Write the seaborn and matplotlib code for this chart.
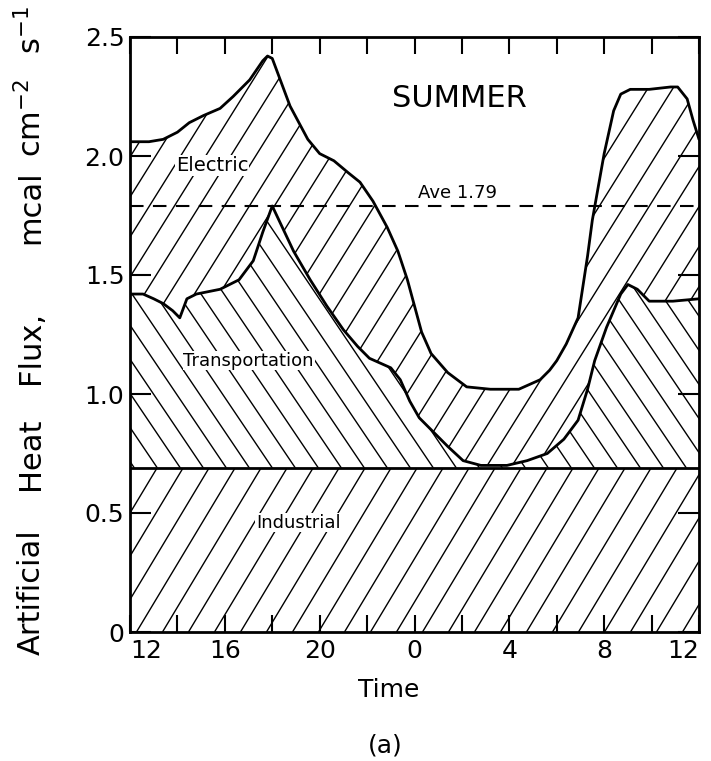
import numpy as np
import matplotlib
matplotlib.use("Agg")
import matplotlib.pyplot as plt
from matplotlib.collections import LineCollection
import seaborn as sns

# ---------------- data ----------------
hours_total = [12.0, 12.8, 13.4, 14.0, 14.5, 15.1, 15.8, 16.35, 17.05, 17.6, 17.8,
               18.0, 18.3, 18.75, 19.5, 20.0, 20.6, 21.2, 21.7, 22.25, 22.85, 23.3,
               23.7, 24.0, 24.3, 24.7, 25.4, 26.2, 27.2, 28.4, 29.3, 29.7, 30.0,
               30.4, 30.9, 31.1, 31.3, 31.5, 31.75, 32.0, 32.4, 32.7, 33.1, 33.9,
               34.8, 35.1, 35.5, 35.75, 36.0]
total_flux = [2.06, 2.06, 2.07, 2.10, 2.14, 2.17, 2.20, 2.25, 2.32, 2.40, 2.42,
              2.41, 2.33, 2.21, 2.07, 2.01, 1.98, 1.93, 1.89, 1.81, 1.70, 1.60,
              1.48, 1.37, 1.26, 1.17, 1.09, 1.03, 1.02, 1.02, 1.06, 1.10, 1.14,
              1.21, 1.32, 1.45, 1.58, 1.73, 1.87, 2.01, 2.19, 2.26, 2.28, 2.28,
              2.29, 2.29, 2.24, 2.15, 2.07]

hours_transport = [12.0, 12.55, 13.0, 13.4, 13.8, 14.1, 14.4, 14.8, 15.8, 16.6, 17.2,
                   17.6, 18.0, 18.9, 19.6, 20.3, 21.0, 21.6, 22.1, 22.55, 23.0, 23.4,
                   23.8, 24.2, 24.8, 25.4, 26.05, 26.8, 27.9, 28.75, 29.6, 30.3, 30.9,
                   31.3, 31.6, 32.1, 32.7, 33.0, 33.4, 33.9, 34.9, 36.0]
transport_top = [1.42, 1.42, 1.40, 1.38, 1.35, 1.32, 1.40, 1.42, 1.44, 1.48, 1.56,
                 1.68, 1.79, 1.60, 1.48, 1.37, 1.27, 1.20, 1.15, 1.13, 1.11, 1.06,
                 0.97, 0.90, 0.84, 0.78, 0.72, 0.70, 0.70, 0.72, 0.75, 0.81, 0.89,
                 1.02, 1.14, 1.28, 1.42, 1.46, 1.44, 1.39, 1.39, 1.40]

hours_industrial = [12.0, 36.0]
industrial = [0.69, 0.69]

average = 1.79

x_ticks = [12, 16, 20, 24, 28, 32, 36]
x_tick_labels = ["12", "16", "20", "0", "4", "8", "12"]
y_ticks = [0, 0.5, 1.0, 1.5, 2.0, 2.5]
y_tick_labels = ["0", "0.5", "1.0", "1.5", "2.0", "2.5"]

# ---------------- figure ----------------
sns.set_style("ticks")
plt.rcParams["font.family"] = ["DejaVu Sans"]
plt.rcParams.update({
    "text.color": "black",
    "axes.labelcolor": "black",
    "axes.edgecolor": "black",
    "xtick.color": "black",
    "ytick.color": "black",
})

W_PX, H_PX = 711, 761
fig = plt.figure(figsize=(W_PX / 100, H_PX / 100), dpi=100)
ax = fig.add_axes([130 / W_PX, 1 - 632 / H_PX, 569 / W_PX, 595 / H_PX])
ax.set_xlim(12, 36)
ax.set_ylim(0, 2.5)
ax.set_axisbelow(False)

ax_w = 569.0
ax_h = 595.0


def hatch(patch, angle_deg, spacing, sign):
    """Slanted hatch lines clipped to a polygon patch (axes-fraction coords)."""
    t = np.tan(np.radians(angle_deg))
    dx = ax_h / t
    segs = []
    if sign > 0:
        starts = np.arange(-dx - spacing, ax_w + spacing, spacing)
        for x0 in starts:
            segs.append([(x0 / ax_w, 0.0), ((x0 + dx) / ax_w, 1.0)])
    else:
        starts = np.arange(0 - spacing, ax_w + dx + spacing, spacing)
        for x0 in starts:
            segs.append([(x0 / ax_w, 0.0), ((x0 - dx) / ax_w, 1.0)])
    lc = LineCollection(segs, transform=ax.transAxes, colors="black",
                        linewidths=1.0, zorder=2)
    ax.add_collection(lc, autolim=False)
    lc.set_clip_path(patch)


ht = np.asarray(hours_total)
tt = np.asarray(total_flux)
hx = np.asarray(hours_transport)
tx = np.asarray(transport_top)
hi = np.asarray(hours_industrial)
ii = np.asarray(industrial)

# Electric polygon: between transport top and total
elec_patch = ax.fill(np.concatenate([ht, hx[::-1]]), np.concatenate([tt, tx[::-1]]),
                     facecolor="white", edgecolor="none", zorder=1)[0]
# Transportation polygon
trans_patch = ax.fill(np.concatenate([hx, hi[::-1]]), np.concatenate([tx, ii[::-1]]),
                      facecolor="white", edgecolor="none", zorder=1)[0]
# Industrial polygon
ind_patch = ax.fill(np.concatenate([hi, hi[::-1]]), np.concatenate([ii, np.zeros_like(ii)]),
                    facecolor="white", edgecolor="none", zorder=1)[0]

hatch(elec_patch, 58, 25, +1)
hatch(trans_patch, 56, 23, -1)
hatch(ind_patch, 59, 26, +1)

# boundary curves
sns.lineplot(x=ht, y=tt, sort=False, estimator=None, color="black", linewidth=2.0, ax=ax, zorder=3)
sns.lineplot(x=hx, y=tx, sort=False, estimator=None, color="black", linewidth=2.0, ax=ax, zorder=3)
sns.lineplot(x=hi, y=ii, sort=False, estimator=None, color="black", linewidth=2.0, ax=ax, zorder=3)

ax.axhline(average, color="black", linewidth=1.5, dashes=(6.5, 4.5), zorder=4)

# labels inside
ax.text(25.9, 2.24, "SUMMER", fontsize=22, ha="center", va="center", zorder=5)
ax.text(15.46, 1.96, "Electric", fontsize=14, ha="center", va="center", zorder=5,
        bbox=dict(facecolor="white", edgecolor="none", pad=0.5))
ax.text(17.0, 1.14, "Transportation", fontsize=13, ha="center", va="center", zorder=5,
        bbox=dict(facecolor="white", edgecolor="none", pad=0.5))
ax.text(19.1, 0.46, "Industrial", fontsize=13, ha="center", va="center", zorder=5,
        bbox=dict(facecolor="white", edgecolor="none", pad=0.5))
ax.text(25.8, 1.823, "Ave 1.79", fontsize=13, ha="center", va="baseline", zorder=5)

# ticks
ax.set_xticks(x_ticks)
ax.set_xticklabels(x_tick_labels)
ax.set_xticks(np.arange(14, 36, 4), minor=True)
ax.set_yticks(y_ticks)
ax.set_yticklabels(y_tick_labels)
ax.tick_params(axis="x", which="both", direction="in", top=True, bottom=True,
               length=12, width=1.5, labelsize=18, pad=5)
ax.tick_params(axis="y", which="both", direction="in", left=True, right=True,
               length=15, width=1.5, labelsize=18, pad=4)
xl = ax.get_xticklabels()
xl[0].set_horizontalalignment("left")
xl[-1].set_horizontalalignment("right")
for s in ax.spines.values():
    s.set_linewidth(2.0)
    s.set_visible(True)
    s.set_zorder(6)
ax.xaxis.set_zorder(7)
ax.yaxis.set_zorder(7)
ax.set_xlabel("")
ax.set_ylabel("")

# axis titles
fig.text(389 / W_PX, 1 - 690 / H_PX, "Time", fontsize=18, ha="center", va="center")
fig.text(385 / W_PX, 1 - 745 / H_PX, "(a)", fontsize=18, ha="center", va="center")

ylab_parts = [("Artificial", 592), ("Heat", 454), ("Flux,", 347),
              ("mcal", 207), (r"cm$^{-2}$", 118), (r"s$^{-1}$", 30)]
for word, ypix in ylab_parts:
    fig.text(31 / W_PX, 1 - ypix / H_PX, word, fontsize=22, rotation=90,
             ha="center", va="center")

fig.savefig("out.png", dpi=100)
